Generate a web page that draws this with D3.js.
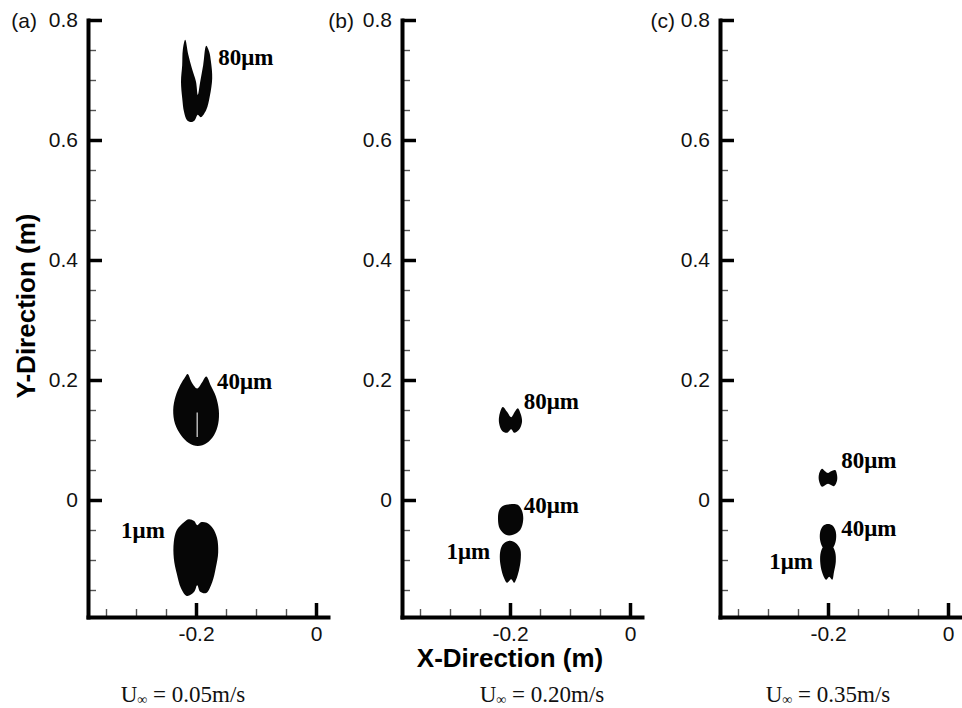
<!DOCTYPE html>
<html>
<head>
<meta charset="utf-8">
<script src="https://cdn.jsdelivr.net/npm/d3@7"></script>
<style>
  body { margin: 0; background: #fff; }
</style>
</head>
<body>
<div id="vis"></div>
<script>
// ---------- data (metres) ----------
const PANEL_TAGS = ["(a)", "(b)", "(c)"];
const SPEEDS = ["0.05", "0.20", "0.35"];
const SIZES = ["80μm", "40μm", "1μm"];

const Y_TICKS = [0, 0.2, 0.4, 0.6, 0.8];
const Y_MINOR = [-0.15, -0.1, -0.05, 0.05, 0.1, 0.15, 0.25, 0.3, 0.35, 0.45, 0.5, 0.55, 0.65, 0.7, 0.75];
const X_TICKS = [-0.2, 0];
const X_MINOR = [-0.35, -0.3, -0.25, -0.15, -0.1, -0.05];

// particle cloud outlines, panel (a) U = 0.05 m/s
const A_80UM = [[-0.218, 0.767], [-0.213, 0.743], [-0.207, 0.720], [-0.200, 0.697], [-0.197, 0.675],
  [-0.193, 0.697], [-0.188, 0.725], [-0.183, 0.757], [-0.178, 0.747], [-0.175, 0.730], [-0.173, 0.703],
  [-0.177, 0.673], [-0.183, 0.650], [-0.192, 0.638], [-0.197, 0.642], [-0.202, 0.633], [-0.208, 0.630],
  [-0.215, 0.633], [-0.220, 0.647], [-0.223, 0.670], [-0.225, 0.697], [-0.223, 0.725], [-0.222, 0.750]];
const A_40UM = [[-0.214, 0.210], [-0.207, 0.196], [-0.198, 0.186], [-0.190, 0.196], [-0.183, 0.206],
  [-0.175, 0.190], [-0.167, 0.173], [-0.162, 0.150], [-0.163, 0.127], [-0.170, 0.108], [-0.182, 0.095],
  [-0.197, 0.090], [-0.212, 0.095], [-0.225, 0.108], [-0.235, 0.127], [-0.238, 0.150], [-0.234, 0.173],
  [-0.226, 0.192], [-0.218, 0.205]];
const A_1UM = [[-0.220, -0.037], [-0.212, -0.032], [-0.203, -0.035], [-0.198, -0.042], [-0.192, -0.037],
  [-0.182, -0.038], [-0.172, -0.047], [-0.165, -0.063], [-0.163, -0.087], [-0.167, -0.113], [-0.173, -0.137],
  [-0.183, -0.155], [-0.193, -0.153], [-0.198, -0.142], [-0.203, -0.153], [-0.215, -0.160], [-0.225, -0.147],
  [-0.232, -0.123], [-0.237, -0.097], [-0.237, -0.070], [-0.232, -0.050]];
const A_40UM_GAP = [[-0.198, 0.146], [-0.198, 0.105]];

// panel (b) U = 0.20 m/s
const B_80UM = [[-0.212, 0.155], [-0.205, 0.147], [-0.198, 0.138], [-0.192, 0.147], [-0.187, 0.153],
  [-0.182, 0.143], [-0.180, 0.130], [-0.185, 0.117], [-0.193, 0.112], [-0.198, 0.118], [-0.205, 0.112],
  [-0.213, 0.115], [-0.218, 0.127], [-0.218, 0.140]];
const B_40UM = [[-0.212, -0.010], [-0.200, -0.007], [-0.187, -0.008], [-0.180, -0.018], [-0.178, -0.033],
  [-0.183, -0.050], [-0.195, -0.058], [-0.207, -0.058], [-0.217, -0.048], [-0.220, -0.032], [-0.218, -0.017]];
const B_1UM = [[-0.210, -0.072], [-0.200, -0.068], [-0.190, -0.072], [-0.183, -0.082], [-0.182, -0.097],
  [-0.185, -0.117], [-0.190, -0.133], [-0.193, -0.138], [-0.198, -0.132], [-0.205, -0.138], [-0.210, -0.130],
  [-0.215, -0.113], [-0.217, -0.095], [-0.215, -0.080]];

// panel (c) U = 0.35 m/s
const C_80UM = [[-0.210, 0.052], [-0.205, 0.048], [-0.200, 0.045], [-0.195, 0.048], [-0.188, 0.050],
  [-0.185, 0.042], [-0.185, 0.032], [-0.190, 0.023], [-0.200, 0.027], [-0.210, 0.022], [-0.215, 0.032],
  [-0.215, 0.043]];
const C_40UM = [[-0.208, -0.043], [-0.200, -0.040], [-0.192, -0.043], [-0.187, -0.053], [-0.187, -0.068],
  [-0.192, -0.080], [-0.200, -0.083], [-0.208, -0.080], [-0.213, -0.068], [-0.213, -0.053]];
const C_1UM = [[-0.207, -0.077], [-0.200, -0.075], [-0.193, -0.077], [-0.188, -0.087], [-0.187, -0.103],
  [-0.190, -0.120], [-0.193, -0.133], [-0.198, -0.128], [-0.203, -0.133], [-0.210, -0.120], [-0.213, -0.103],
  [-0.212, -0.087]];

// label anchors (data coords) for 80, 40, 1 micron clouds
const LABELS_A = [[-0.163, 0.725], [-0.165, 0.185], [-0.252, -0.063]];
const LABELS_B = [[-0.177, 0.152], [-0.177, -0.022], [-0.233, -0.098]];
const LABELS_C = [[-0.178, 0.053], [-0.178, -0.060], [-0.225, -0.115]];

const PANEL_CLOUDS = [[A_80UM, A_40UM, A_1UM], [B_80UM, B_40UM, B_1UM], [C_80UM, C_40UM, C_1UM]];
const PANEL_LABELS = [LABELS_A, LABELS_B, LABELS_C];

// ---------- layout ----------
const FRAME_WIDTH = 962;
const FRAME_HEIGHT = 708;
const PANEL_LEFT = [88, 402, 720];
const TAG_OFFSET = [-51, -48, -45];
const SUB_CENTER = [183, 542, 828];
const VIS_TOP = 20;
const VIS_BOTTOM = 617;
const VIS_WIDTH = 240;

const SANS = "'Liberation Sans', Arial, Helvetica, sans-serif";
const SERIF = "'Liberation Serif', 'Times New Roman', Times, serif";

const X_SCALE = d3.scaleLinear().domain([-0.38, 0.02]).range([0, VIS_WIDTH]);
const Y_SCALE = d3.scaleLinear().domain([-0.195, 0.8]).range([VIS_BOTTOM, VIS_TOP]);

const FRAME = d3.select("#vis")
  .append("svg")
  .attr("width", FRAME_WIDTH)
  .attr("height", FRAME_HEIGHT)
  .style("display", "block")
  .style("background", "#fff");

const tickFmt = (d) => d === 0 ? "0" : String(d);

const cloudLine = d3.line()
  .x((d) => X_SCALE(d[0]))
  .y((d) => Y_SCALE(d[1]))
  .curve(d3.curveCatmullRomClosed.alpha(0.5));

PANEL_TAGS.forEach((tag, i) => {
  const g = FRAME.append("g").attr("transform", "translate(" + PANEL_LEFT[i] + ",0)");

  // particle clouds
  g.selectAll("path.cloud")
    .data(PANEL_CLOUDS[i])
    .enter()
    .append("path")
      .attr("class", "cloud")
      .attr("d", cloudLine)
      .attr("fill", "#060606");

  if (i === 0) {
    g.append("path")
      .attr("d", d3.line().x((d) => X_SCALE(d[0])).y((d) => Y_SCALE(d[1]))(A_40UM_GAP))
      .attr("stroke", "#cfcfcf")
      .attr("stroke-width", 1.3);
  }

  // cloud labels
  g.selectAll("text.size")
    .data(PANEL_LABELS[i])
    .enter()
    .append("text")
      .attr("class", "size")
      .attr("x", (d) => X_SCALE(d[0]))
      .attr("y", (d) => Y_SCALE(d[1]))
      .attr("text-anchor", (d, j) => SIZES[j] === "1μm" ? "end" : "start")
      .attr("font-family", SERIF)
      .attr("font-weight", "bold")
      .attr("font-size", "23px")
      .text((d, j) => SIZES[j]);

  // minor ticks
  g.append("g")
    .attr("class", "minor")
    .call(d3.axisLeft(Y_SCALE).tickValues(Y_MINOR).tickFormat("").tickSizeInner(-8).tickSizeOuter(0));
  g.append("g")
    .attr("class", "minor")
    .attr("transform", "translate(0," + VIS_BOTTOM + ")")
    .call(d3.axisBottom(X_SCALE).tickValues(X_MINOR).tickFormat("").tickSizeInner(-8).tickSizeOuter(0));

  // major axes
  g.append("g")
    .attr("class", "major")
    .call(d3.axisLeft(Y_SCALE).tickValues(Y_TICKS).tickFormat(tickFmt)
      .tickSizeInner(-14).tickSizeOuter(0).tickPadding(10));
  g.append("g")
    .attr("class", "major")
    .attr("transform", "translate(0," + VIS_BOTTOM + ")")
    .call(d3.axisBottom(X_SCALE).tickValues(X_TICKS).tickFormat(tickFmt)
      .tickSizeInner(-14).tickSizeOuter(0).tickPadding(9));

  // panel tag
  g.append("text")
    .attr("x", TAG_OFFSET[i])
    .attr("y", Y_SCALE(0.8))
    .attr("dy", "0.36em")
    .attr("text-anchor", "end")
    .attr("font-family", SANS)
    .attr("font-size", "21px")
    .attr("fill", "#111")
    .text(tag);

  // free-stream velocity caption
  const cap = FRAME.append("text")
    .attr("x", SUB_CENTER[i])
    .attr("y", 702)
    .attr("text-anchor", "middle")
    .attr("font-family", SERIF)
    .attr("font-size", "23px")
    .attr("fill", "#111");
  cap.append("tspan").text("U");
  cap.append("tspan").attr("font-size", "14px").attr("dy", "2").text("∞");
  cap.append("tspan").attr("dy", "-2").text(" = " + SPEEDS[i] + "m/s");
});

// axis styling
FRAME.selectAll(".minor .domain").remove();
FRAME.selectAll(".minor line").attr("stroke", "#555").attr("stroke-width", 1.4);
FRAME.selectAll(".major .domain").attr("stroke", "#000").attr("stroke-width", 4)
  .attr("stroke-linecap", "square");
FRAME.selectAll(".major line").attr("stroke", "#000").attr("stroke-width", 3.5);
FRAME.selectAll(".major text").attr("font-family", SANS).attr("font-size", "21px").attr("fill", "#111");
FRAME.selectAll(".major").attr("font-family", null).attr("font-size", null);

// axis titles
FRAME.append("text")
  .attr("transform", "translate(35,306) rotate(-90)")
  .attr("text-anchor", "middle")
  .attr("font-family", SANS)
  .attr("font-weight", "bold")
  .attr("font-size", "26px")
  .text("Y-Direction (m)");

FRAME.append("text")
  .attr("x", 510)
  .attr("y", 667)
  .attr("text-anchor", "middle")
  .attr("font-family", SANS)
  .attr("font-weight", "bold")
  .attr("font-size", "26px")
  .text("X-Direction (m)");
</script>
</body>
</html>
